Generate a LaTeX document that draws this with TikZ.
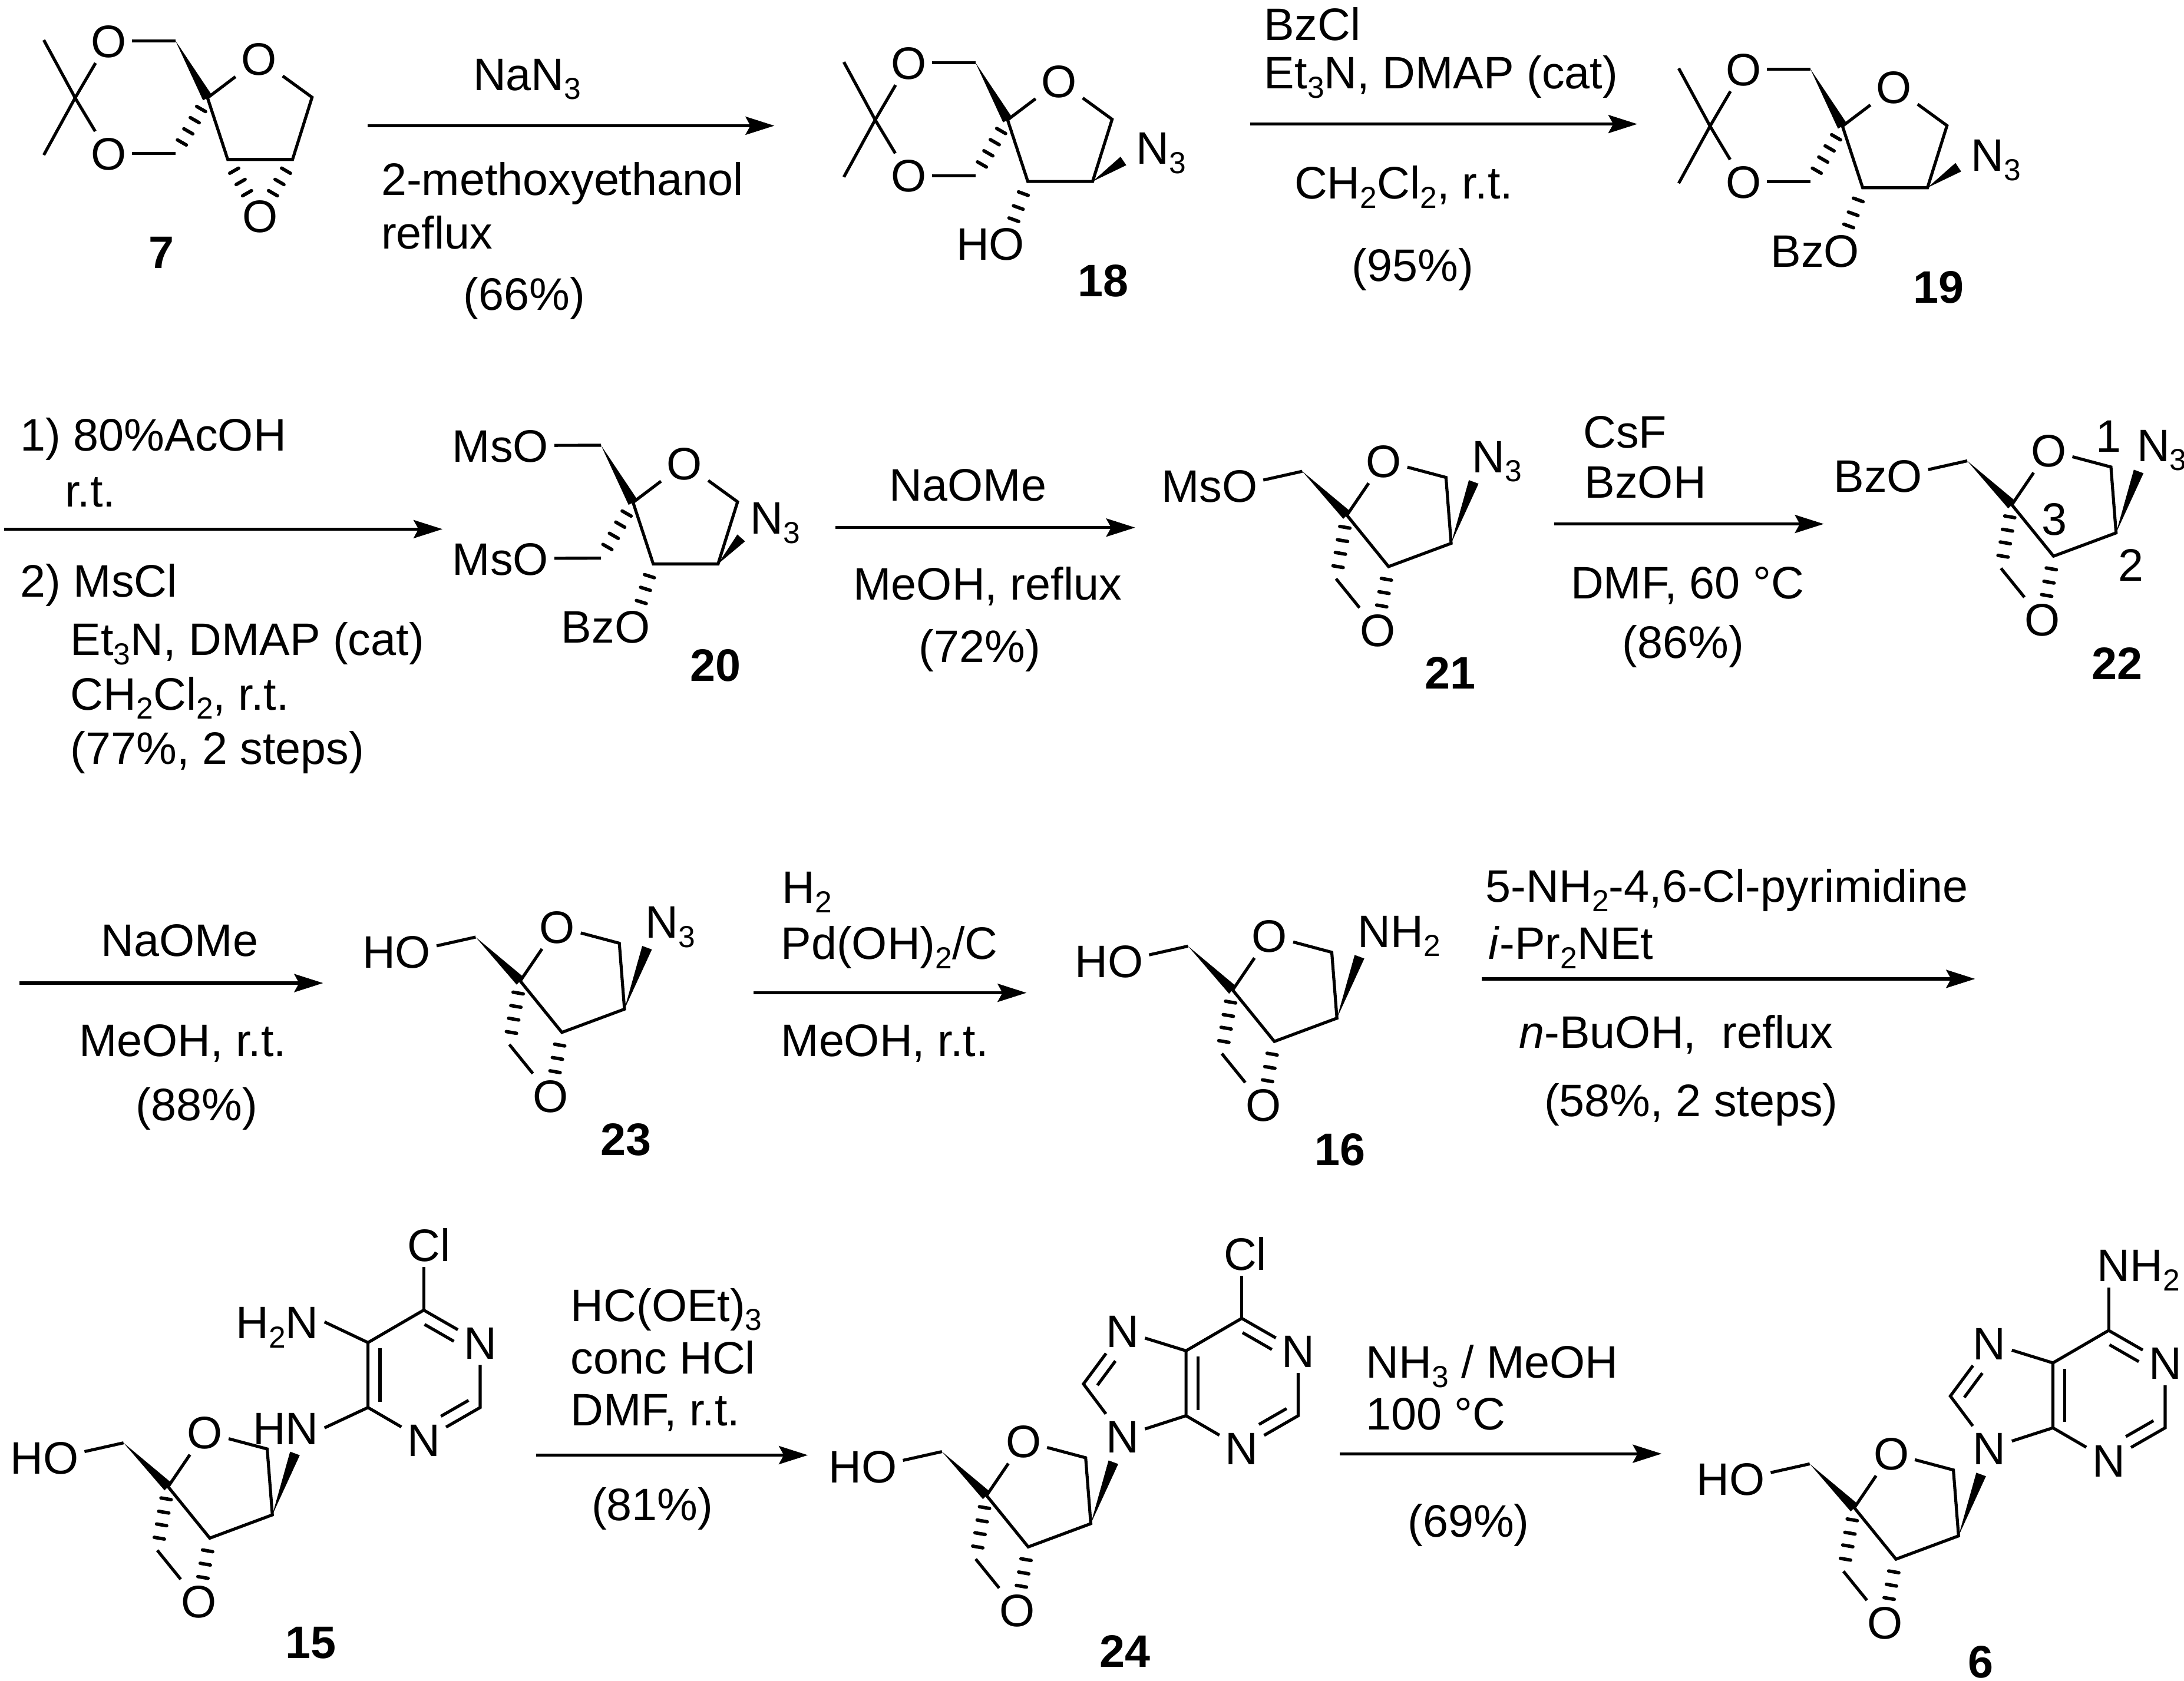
\documentclass[tikz,border=0pt]{standalone}
\usepackage{fontspec}
\setmainfont{Liberation Sans}
\usetikzlibrary{positioning,calc}
\usetikzlibrary{arrows.meta}

\newcommand{\chemfont}{\fontsize{9.3}{11}\selectfont}

\tikzset{
   bond/.style={line width=0.62pt,line join=miter},
   hash/.style={line width=0.7pt,line cap=round},
   atom/.style={inner sep=1pt,anchor=center,font=\chemfont,text height=6.7pt,text depth=0pt},
   reagent/.style={inner sep=0pt,anchor=west,font=\chemfont,text height=6.7pt,text depth=0pt},
   cpd/.style={inner sep=0pt,anchor=center,font=\chemfont\bfseries,text height=6.7pt,text depth=0pt},
   rxn/.style={line width=0.62pt,-{Stealth[length=5.9pt,width=3.7pt,inset=1pt]}},
}

\newcommand{\subs}[1]{\raisebox{-1.9pt}{\fontsize{6.2}{7}\selectfont #1}}
\newcommand{\wedgebond}[2]{\fill ($(#2)!1.05pt!90:(#1)$) -- (#1) -- ($(#2)!1.05pt!-90:(#1)$) -- cycle;}
\newcommand{\hashbond}[3]{%
   \foreach \hpos in {#3} {
      \coordinate (hc) at ($(#1)!\hpos!(#2)$);
      \draw[hash] ($(hc)!1.05pt!90:(#2)$) -- ($(hc)!1.05pt!-90:(#2)$);
   }}
\newcommand{\innerbond}[5]{%
   \coordinate (iba) at ($(#1)!#4!(#2)$);
   \coordinate (ibb) at ($(#1)!#5!(#2)$);
   \draw[bond] ($(iba)!#3!90:(ibb)$) -- ($(ibb)!#3!-90:(iba)$);}

\newcommand{\dioxring}[2]{%
   \coordinate (#1s) at (#2);
   \node[above right=0.28cm and 0.37cm of #1s,atom] (#1o) {O};
   \coordinate[above right=0.004cm and 0.75cm of #1s] (#1c1);
   \coordinate[below right=0.442cm and 0.61cm of #1s] (#1c2);
   \coordinate[below right=0.442cm and 0.145cm of #1s] (#1c3);
   \coordinate[above left=0.41cm and 0.23cm of #1s] (#1ca);
   \coordinate[below left=0.40cm and 0.23cm of #1s] (#1cb);
   \draw[bond] (#1s) -- (#1o) -- (#1c1) -- (#1c2) -- (#1c3) -- (#1s);
   \wedgebond{#1ca}{#1s}
   \hashbond{#1s}{#1cb}{.2,.4,.6,.8}}

\newcommand{\acetonide}[1]{%
   \coordinate[left=0.95cm of #1s] (#1k);
   \coordinate[above left=0.415cm and 1.175cm of #1s] (#1ma);
   \coordinate[below left=0.41cm and 1.175cm of #1s] (#1mb);
   \node[above left=0.41cm and 0.71cm of #1s,atom] (#1p) {O};
   \node[below left=0.40cm and 0.71cm of #1s,atom] (#1q) {O};
   \draw[bond] (#1ma) -- (#1k) -- (#1mb);
   \draw[bond] (#1p) -- (#1k) -- (#1q);
   \draw[bond] (#1p) -- (#1ca);
   \draw[bond] (#1q) -- (#1cb);}

\newcommand{\spiroring}[3]{%
   \coordinate (#1s) at (#2);
   \node[above right=0.39cm and 0.265cm of #1s,atom] (#1o) {O};
   \coordinate[above right=0.271cm and 0.711cm of #1s] (#1c1);
   \coordinate[below right=0.202cm and 0.748cm of #1s] (#1c2);
   \coordinate[below right=0.369cm and 0.299cm of #1s] (#1c3);
   \coordinate[above left=0.315cm and 0.32cm of #1s] (#1ca);
   \coordinate[below left=0.456cm and 0.078cm of #1s] (#1cb);
   \coordinate[above right=0.239cm and 0.91cm of #1s] (#1w);
   \node[below right=0.824cm and 0.22cm of #1s,atom] (#1x) {O};
   \node[above left=0.21cm and 0.60cm of #1s,atom,anchor=east] (#1l) {#3};
   \draw[bond] (#1s) -- (#1o) -- (#1c1) -- (#1c2) -- (#1c3) -- (#1s);
   \draw[bond] (#1ca) -- ([yshift=1.2pt]#1l.east);
   \draw[bond] (#1cb) -- (#1x);
   \wedgebond{#1ca}{#1s}
   \wedgebond{#1c2}{#1w}
   \hashbond{#1s}{#1cb}{.19,.4,.6,.81}
   \hashbond{#1c3}{#1x}{.2,.41,.62}}

\newcommand{\pyrimidine}[2]{%
   \coordinate (#1f) at (#2);
   \coordinate[above=0.466cm of #1f] (#1e);
   \coordinate[above right=0.699cm and 0.40cm of #1f] (#1d);
   \node[above right=0.466cm and 0.805cm of #1f,atom] (#1n) {N};
   \coordinate[right=0.805cm of #1f] (#1b);
   \node[below right=0.233cm and 0.40cm of #1f,atom] (#1m) {N};
   \draw[bond] (#1f) -- (#1e) -- (#1d) -- (#1n) -- (#1b) -- (#1m) -- (#1f);
   \innerbond{#1e}{#1f}{2.45pt}{.09}{.91}
   \innerbond{#1n}{#1d}{2.45pt}{.36}{.88}
   \innerbond{#1m}{#1b}{2.45pt}{.41}{.90}}

\newcommand{\imidazole}[1]{%
   \node[above left=0.607cm and 0.455cm of #1f,atom] (#1g) {N};
   \coordinate[above left=0.228cm and 0.736cm of #1f] (#1h);
   \node[below left=0.147cm and 0.455cm of #1f,atom] (#1i) {N};
   \draw[bond] (#1e) -- (#1g) -- (#1h) -- (#1i) -- (#1f);
   \innerbond{#1g}{#1h}{2.45pt}{.43}{.89}}

\begin{document}
\begin{tikzpicture}[x=0.01cm,y=-0.01cm]
   \useasboundingbox (0,0) rectangle (1568,1207);

   % first row
   \dioxring{c7}{149,70.3}
   \acetonide{c7}
   \node[below right=0.846cm and 0.376cm of c7s,atom] (c7x) {O};
   \hashbond{c7c3}{c7x}{.2,.4,.6}
   \hashbond{c7c2}{c7x}{.2,.4,.6}
   \node[cpd] (l7) at (116,181) {7};

   \coordinate (r1a) at (264,90.3);
   \coordinate (r1b) at (556,90.3);
   \draw[rxn] (r1a) -- (r1b);
   \node[reagent] (t1a) at (339,53) {NaN\subs{3}};
   \node[reagent] (t1b) at (273,128.5) {2-methoxyethanol};
   \node[reagent] (t1c) at (273,167) {reflux};
   \node[reagent] (t1d) at (332,211) {(66\%)};

   \dioxring{c18}{723.4,86.1}
   \acetonide{c18}
   \coordinate[below right=0.295cm and 0.831cm of c18s] (c18w);
   \wedgebond{c18c2}{c18w}
   \node[below right=0.199cm and 0.881cm of c18s,atom,anchor=west] (c18n) {N\subs{3}};
   \node[below right=0.889cm and 0.164cm of c18s,atom,anchor=east] (c18h) {HO};
   \coordinate[below left=0.84cm and 0.0cm of c18s] (c18y);
   \hashbond{c18c3}{c18y}{.22,.47,.69}
   \node[cpd] (l18) at (792,201) {18};

   \coordinate (r2a) at (897.4,89.1);
   \coordinate (r2b) at (1175.5,89.1);
   \draw[rxn] (r2a) -- (r2b);
   \node[reagent] (t2a) at (907,17) {BzCl};
   \node[reagent] (t2b) at (907,52) {Et\subs{3}N, DMAP (cat)};
   \node[reagent] (t2c) at (928.6,131) {CH\subs{2}Cl\subs{2}, r.t.};
   \node[reagent] (t2d) at (970,190) {(95\%)};

   \dioxring{c19}{1322.8,90.6}
   \acetonide{c19}
   \coordinate[below right=0.295cm and 0.831cm of c19s] (c19w);
   \wedgebond{c19c2}{c19w}
   \node[below right=0.204cm and 0.881cm of c19s,atom,anchor=west] (c19n) {N\subs{3}};
   \node[below right=0.892cm and 0.164cm of c19s,atom,anchor=east] (c19h) {BzO};
   \coordinate[below left=0.84cm and 0.0cm of c19s] (c19y);
   \hashbond{c19c3}{c19y}{.22,.47,.69}
   \node[cpd] (l19) at (1392,205.8) {19};

   % second row
   \coordinate (r3a) at (3,380);
   \coordinate (r3b) at (317.7,380);
   \draw[rxn] (r3a) -- (r3b);
   \node[reagent] (t3a) at (14,312) {1) 80\%AcOH};
   \node[reagent] (t3b) at (46,352) {r.t.};
   \node[reagent] (t3c) at (14,417) {2) MsCl};
   \node[reagent] (t3d) at (50,459) {Et\subs{3}N, DMAP (cat)};
   \node[reagent] (t3e) at (50,498) {CH\subs{2}Cl\subs{2}, r.t.};
   \node[reagent] (t3f) at (50,537) {(77\%, 2 steps)};

   \dioxring{c20}{454.5,360.8}
   \node[above left=0.408cm and 0.565cm of c20s,atom,anchor=east] (c20u) {MsO};
   \node[below left=0.403cm and 0.565cm of c20s,atom,anchor=east] (c20v) {MsO};
   \draw[bond] (c20u) -- (c20ca);
   \draw[bond] (c20v) -- (c20cb);
   \coordinate[below right=0.255cm and 0.776cm of c20s] (c20w);
   \wedgebond{c20c2}{c20w}
   \node[below right=0.109cm and 0.80cm of c20s,atom,anchor=west] (c20n) {N\subs{3}};
   \node[below right=0.892cm and 0.164cm of c20s,atom,anchor=east] (c20h) {BzO};
   \coordinate[below right=0.792cm and 0.035cm of c20s] (c20y);
   \hashbond{c20c3}{c20y}{.25,.51,.78}
   \node[cpd] (l20) at (513.8,477.5) {20};

   \coordinate (r4a) at (600,378.9);
   \coordinate (r4b) at (815,378.9);
   \draw[rxn] (r4a) -- (r4b);
   \node[reagent] (t4a) at (638,348) {NaOMe};
   \node[reagent] (t4b) at (612,419) {MeOH, reflux};
   \node[reagent] (t4c) at (659,464) {(72\%)};

   \spiroring{c21}{967,370}{MsO}
   \node[above right=0.425cm and 0.855cm of c21s,atom,anchor=west] (c21n) {N\subs{3}};
   \node[cpd] (l21) at (1041,483) {21};

   \coordinate (r5a) at (1116,376.3);
   \coordinate (r5b) at (1309.4,376.3);
   \draw[rxn] (r5a) -- (r5b);
   \node[reagent] (t5a) at (1136,310) {CsF};
   \node[reagent] (t5b) at (1137,346) {BzOH};
   \node[reagent] (t5c) at (1127,418) {DMF, 60 °C};
   \node[reagent] (t5d) at (1164,461) {(86\%)};

   \spiroring{c22}{1444.4,362.5}{BzO}
   \node[above right=0.43cm and 0.855cm of c22s,atom,anchor=west] (c22n) {N\subs{3}};
   \node[atom] (n1) at (1514,312.8) {1};
   \node[atom] (n3) at (1475,372.6) {3};
   \node[atom] (n2) at (1529.8,405.6) {2};
   \node[cpd] (l22) at (1520.2,476) {22};

   % third row
   \coordinate (r6a) at (14,706);
   \coordinate (r6b) at (232,706);
   \draw[rxn] (r6a) -- (r6b);
   \node[reagent] (t6a) at (72,675) {NaOMe};
   \node[reagent] (t6b) at (56,747) {MeOH, r.t.};
   \node[reagent] (t6c) at (97,793) {(88\%)};

   \spiroring{c23}{373.5,704.5}{HO}
   \node[above right=0.425cm and 0.855cm of c23s,atom,anchor=west] (c23n) {N\subs{3}};
   \node[cpd] (l23) at (449.3,818) {23};

   \coordinate (r7a) at (541,713);
   \coordinate (r7b) at (737,713);
   \draw[rxn] (r7a) -- (r7b);
   \node[reagent] (t7a) at (561,637) {H\subs{2}};
   \node[reagent] (t7b) at (560,677) {Pd(OH)\subs{2}/C};
   \node[reagent] (t7c) at (560,747) {MeOH, r.t.};

   \spiroring{c16}{885,711}{HO}
   \node[above right=0.425cm and 0.855cm of c16s,atom,anchor=west] (c16n) {NH\subs{2}};
   \node[cpd] (l16) at (962,825) {16};

   \coordinate (r8a) at (1064,703);
   \coordinate (r8b) at (1418,703);
   \draw[rxn] (r8a) -- (r8b);
   \node[reagent] (t8a) at (1066,636) {5-NH\subs{2}-4,6-Cl-pyrimidine};
   \node[reagent] (t8b) at (1068,677) {\textit{i}-Pr\subs{2}NEt};
   \node[reagent] (t8c) at (1090,741) {\textit{n}-BuOH,\ \ reflux};
   \node[reagent] (t8d) at (1108,790) {(58\%, 2 steps)};

   % fourth row
   \spiroring{c15}{120.7,1067.7}{HO}
   \pyrimidine{c15}{264.2,1010.8}
   \node[atom] (c15cl) at (307.9,894) {Cl};
   \node[above left=0.614cm and 0.312cm of c15f,atom,anchor=east] (c15a) {H\subs{2}N};
   \node[below left=0.146cm and 0.312cm of c15f,atom,anchor=east] (c15b) {HN};
   \draw[bond] (c15d) -- (c15d |- c15cl.south);
   \draw[bond] (c15e) -- (c15a.east);
   \draw[bond] (c15f) -- (c15b.east);
   \node[cpd] (l15) at (223,1179) {15};

   \coordinate (r9a) at (385,1045);
   \coordinate (r9b) at (580,1045);
   \draw[rxn] (r9a) -- (r9b);
   \node[reagent] (t9a) at (409,937) {HC(OEt)\subs{3}};
   \node[reagent] (t9b) at (409,975) {conc HCl};
   \node[reagent] (t9c) at (409,1012) {DMF, r.t.};
   \node[reagent] (t9d) at (424,1080) {(81\%)};

   \spiroring{c24}{708.3,1074}{HO}
   \pyrimidine{c24}{851.5,1016.7}
   \imidazole{c24}
   \node[atom] (c24cl) at (894,900.2) {Cl};
   \draw[bond] (c24d) -- (c24d |- c24cl.south);
   \node[cpd] (l24) at (807.8,1185.4) {24};

   \coordinate (r10a) at (962,1044);
   \coordinate (r10b) at (1193,1044);
   \draw[rxn] (r10a) -- (r10b);
   \node[reagent] (t10a) at (980,978) {NH\subs{3} / MeOH};
   \node[reagent] (t10b) at (980,1015) {100 °C};
   \node[reagent] (t10c) at (1010,1092) {(69\%)};

   \spiroring{c6}{1331.3,1082.8}{HO}
   \pyrimidine{c6}{1473.9,1025.4}
   \imidazole{c6}
   \node[above left=0.468cm and 0.125cm of c6d,atom,anchor=west] (c6a) {NH\subs{2}};
   \draw[bond] (c6d) -- (c6d |- c6a.south);
   \node[cpd] (l6) at (1421.9,1193) {6};
\end{tikzpicture}
\end{document}
